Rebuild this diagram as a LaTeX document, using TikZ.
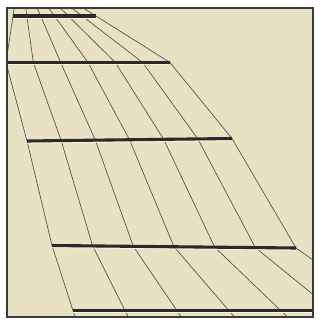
\documentclass[tikz,border=0pt]{standalone}
\usetikzlibrary{calc}
\definecolor{paper}{HTML}{E8E1C4}
\definecolor{railgray}{HTML}{4E4E4A}
\definecolor{bardark}{HTML}{2A2A2A}
\definecolor{shinecol}{HTML}{F6F2E4}
\definecolor{framecol}{HTML}{3C3C3C}
\begin{document}
\begin{tikzpicture}[x=1pt,y=-1pt,
  rail/.style={line width=0.65pt,draw=railgray},
  bar/.style={line width=3.1pt,draw=bardark},
  shine/.style={line width=1pt,draw=shinecol}]
\useasboundingbox (0,0) rectangle (324,331);
\fill[white] (0,0) rectangle (324,331);
\coordinate (L1) at (13,16);    \coordinate (R1) at (96,16);
\coordinate (L2) at (6,62.5);   \coordinate (R2) at (170,62.5);
\coordinate (L3) at (27,141);   \coordinate (R3) at (232,138.5);
\coordinate (L4) at (52,245.5); \coordinate (R4) at (296,248);
\coordinate (L5) at (73,310.7); \coordinate (R5) at (385,310.7);
\begin{scope}
  \clip (7,8) rectangle (313,317);
  \fill[paper] (7,8) rectangle (313,317);
  \foreach \i in {0,...,6}{
    \pgfmathsetmacro\t{\i/6}
    \coordinate (P1) at ($(L1)!\t!(R1)$);
    \coordinate (P2) at ($(L2)!\t!(R2)$);
    \coordinate (P3) at ($(L3)!\t!(R3)$);
    \coordinate (P4) at ($(L4)!\t!(R4)$);
    \coordinate (P5) at ($(L5)!\t!(R5)$);
    \draw[rail] ($(P1)!-0.3!(P2)$) -- (P1) -- (P2) -- (P3) -- (P4) -- (P5) -- ($(P5)!-0.3!(P4)$);
  }
  \foreach \k in {1,...,5}{
    \draw[shine] ($(L\k)+(0,2.1)$) -- ($(R\k)+(0,2.1)$);
    \draw[bar] (L\k) -- (R\k);
  }
\end{scope}
\draw[framecol,line width=1.1pt] (7,8) rectangle (313,317);
\end{tikzpicture}
\end{document}
